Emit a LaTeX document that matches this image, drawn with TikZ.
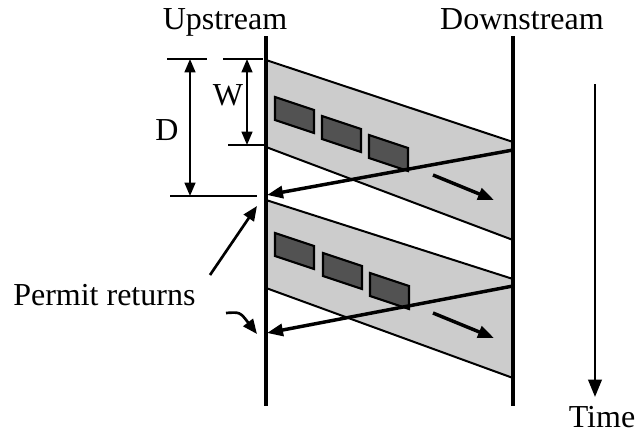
\documentclass[tikz,border=0pt]{standalone}
\usepackage{fontspec}
\setmainfont{Liberation Serif}
\usepackage{xcolor}
\usepackage{tikz}
\usetikzlibrary{calc,arrows.meta}
\definecolor{bandgray}{gray}{0.80}
\definecolor{pktgray}{gray}{0.32}

\tikzset{
  lbl/.style={font=\fontsize{24}{28}\selectfont, inner sep=0pt},
  timeline/.style={line width=2.4pt},
  bandedge/.style={line width=1.5pt},
  pkt/.style={fill=pktgray, draw=black, line width=1.6pt},
  msg/.style={line width=2.6pt, -{Triangle[length=12pt,width=9pt]}},
  dimline/.style={line width=1.6pt},
  dimarrow/.style={line width=1.6pt, {Triangle[length=10pt,width=8pt]}-{Triangle[length=10pt,width=8pt]}},
}

\begin{document}
\begin{tikzpicture}[x=0.75pt, y=-0.75pt]
    \useasboundingbox (0,0) rectangle (637,432);

    % the two ends and the time axis
    \coordinate (upT) at (266,36);   \coordinate (upB) at (266,406);
    \coordinate (dnT) at (513,36);   \coordinate (dnB) at (513,406);
    \coordinate (tmT) at (595,84);   \coordinate (tmB) at (595,397);

    \node[lbl, anchor=base] (upstream) at (225,30) {Upstream};
    \node[lbl, anchor=base] (downstream) at (522,30) {Downstream};
    \node[lbl, anchor=base] (time) at (602,427) {Time};
    \node[lbl, anchor=base west] (permit) at (13,305) {Permit returns};
    \node[lbl] (dlabel) at (167,130) {D};
    \node[lbl] (wlabel) at (228,95) {W};

    % windows sent downstream
    \foreach \name/\yl/\yr/\hl/\hr in {one/60/142/87/98, two/200/279/88/99} {
      \coordinate (\name TL) at (266,\yl);
      \coordinate (\name TR) at (513,\yr);
      \coordinate (\name BL) at ($(\name TL)+(0,\hl)$);
      \coordinate (\name BR) at ($(\name TR)+(0,\hr)$);
      \fill[bandgray] (\name TL) -- (\name TR) -- (\name BR) -- (\name BL) -- cycle;
      \draw[bandedge] (\name TL) -- (\name TR);
      \draw[bandedge] (\name BL) -- (\name BR);
    }

    % packets in flight
    \foreach \px/\py in {275/97, 322/116, 369/135, 275/233, 323/253, 370/273}
      \draw[pkt] (\px,\py) -- ++(39,13) -- ++(0,23) -- ++(-39,-13) -- cycle;

    \coordinate (fwdA1) at (433,175);  \coordinate (fwdA2) at (494,200);
    \coordinate (fwdB1) at (433,313);  \coordinate (fwdB2) at (494,338);
    \draw[msg] (fwdA1) -- (fwdA2);
    \draw[msg] (fwdB1) -- (fwdB2);

    % permits coming back
    \coordinate (retA1) at (513,150);  \coordinate (retA2) at (267,195);
    \coordinate (retB1) at (513,286);  \coordinate (retB2) at (267,333);
    \draw[msg] (retA1) -- (retA2);
    \draw[msg] (retB1) -- (retB2);

    \draw[timeline] (upT) -- (upB);
    \draw[timeline] (dnT) -- (dnB);
    \draw[line width=2pt, -{Triangle[length=13pt,width=10pt]}] (tmT) -- (tmB);

    % D and W
    \coordinate (dTickL) at (167,59);  \coordinate (dTickR) at (207,59);
    \coordinate (wTickL) at (223,59);  \coordinate (wTickR) at (263,59);
    \coordinate (wBotL) at (228,145);  \coordinate (wBotR) at (265,145);
    \coordinate (dBotL) at (170,196);  \coordinate (dBotR) at (257,196);
    \draw[dimline] (dTickL) -- (dTickR);
    \draw[dimline] (wTickL) -- (wTickR);
    \draw[dimline] (wBotL) -- (wBotR);
    \draw[dimline] (dBotL) -- (dBotR);
    \coordinate (dTop) at (190,59);  \coordinate (dBot) at (190,196);
    \coordinate (wTop) at (247,59);  \coordinate (wBot) at (247,145);
    \draw[dimarrow] (dTop) -- (dBot);
    \draw[dimarrow] (wTop) -- (wBot);

    % pointers from the label
    \coordinate (ptrA) at (210,275);  \coordinate (ptrAend) at (257,206);
    \coordinate (ptrB) at (226,313);  \coordinate (ptrBend) at (257,334);
    \draw[line width=2pt, -{Triangle[length=11pt,width=9pt]}] (ptrA) -- (ptrAend);
    \draw[line width=2pt, -{Triangle[length=11pt,width=9pt]}] (ptrB) .. controls (240,312) .. (ptrBend);
  \end{tikzpicture}
\end{document}
